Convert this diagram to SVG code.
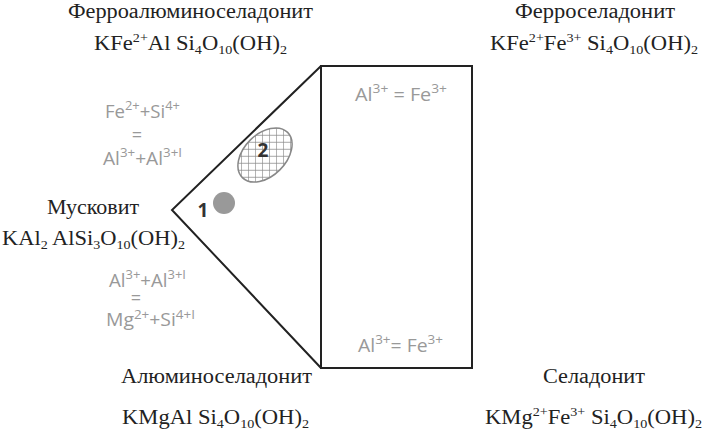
<svg xmlns="http://www.w3.org/2000/svg" width="702" height="432" viewBox="0 0 702 432">
<style>
.t{font-family:"Liberation Serif","Times New Roman",serif;font-size:20px;fill:#222}
.g{font-family:"Open Sans","Noto Sans",sans-serif;font-size:18px;fill:#999}
.s{font-size:12.5px}
.n{font-family:"Open Sans","Noto Sans",sans-serif;font-size:19px;font-weight:bold;fill:#333}
.ln{fill:none;stroke:#222;stroke-width:2}
</style>
<defs>
<pattern id="hatch" width="7" height="7" patternUnits="userSpaceOnUse" patternTransform="rotate(45)">
<rect width="7" height="7" fill="#fff"/>
<path d="M0 0H7M0 0V7" stroke="#8a8a8a" stroke-width="1.3"/>
</pattern>
</defs>
<g id="connectors">
<path class="ln" d="M321 66 L172 210 L321 368"/>
<rect class="ln" x="321" y="66" width="151" height="302"/>
</g>
<g id="ferroaluminoseladonit">
<text class="t" x="68" y="18" textLength="245" lengthAdjust="spacingAndGlyphs">Ферроалюминоселадонит</text>
<text class="t" x="94" y="50" textLength="193" lengthAdjust="spacingAndGlyphs">KFe<tspan class="s" dy="-8">2+</tspan><tspan dy="8">Al Si</tspan><tspan class="s" dy="4">4</tspan><tspan dy="-4">O</tspan><tspan class="s" dy="4">10</tspan><tspan dy="-4">(OH)</tspan><tspan class="s" dy="4">2</tspan></text>
</g>
<g id="ferroseladonit">
<text class="t" x="515" y="18" textLength="160" lengthAdjust="spacingAndGlyphs">Ферроселадонит</text>
<text class="t" x="490" y="50" textLength="208" lengthAdjust="spacingAndGlyphs">KFe<tspan class="s" dy="-8">2+</tspan><tspan dy="8">Fe</tspan><tspan class="s" dy="-8">3+</tspan><tspan dy="8"> Si</tspan><tspan class="s" dy="4">4</tspan><tspan dy="-4">O</tspan><tspan class="s" dy="4">10</tspan><tspan dy="-4">(OH)</tspan><tspan class="s" dy="4">2</tspan></text>
</g>
<g id="muskovit">
<text class="t" x="47" y="214" textLength="92" lengthAdjust="spacingAndGlyphs">Мусковит</text>
<text class="t" x="2" y="245" textLength="183" lengthAdjust="spacingAndGlyphs">KAl<tspan class="s" dy="4">2</tspan><tspan dy="-4"> AlSi</tspan><tspan class="s" dy="4">3</tspan><tspan dy="-4">O</tspan><tspan class="s" dy="4">10</tspan><tspan dy="-4">(OH)</tspan><tspan class="s" dy="4">2</tspan></text>
</g>
<g id="aluminoseladonit">
<text class="t" x="121" y="383" textLength="191" lengthAdjust="spacingAndGlyphs">Алюминоселадонит</text>
<text class="t" x="122" y="424" textLength="187" lengthAdjust="spacingAndGlyphs">KMgAl Si<tspan class="s" dy="4">4</tspan><tspan dy="-4">O</tspan><tspan class="s" dy="4">10</tspan><tspan dy="-4">(OH)</tspan><tspan class="s" dy="4">2</tspan></text>
</g>
<g id="seladonit">
<text class="t" x="543" y="383" textLength="102" lengthAdjust="spacingAndGlyphs">Селадонит</text>
<text class="t" x="485" y="424" textLength="217" lengthAdjust="spacingAndGlyphs">KMg<tspan class="s" dy="-8">2+</tspan><tspan dy="8">Fe</tspan><tspan class="s" dy="-8">3+</tspan><tspan dy="8"> Si</tspan><tspan class="s" dy="4">4</tspan><tspan dy="-4">O</tspan><tspan class="s" dy="4">10</tspan><tspan dy="-4">(OH)</tspan><tspan class="s" dy="4">2</tspan></text>
</g>
<g id="eq-upper">
<text class="g" x="105" y="118" textLength="75" lengthAdjust="spacingAndGlyphs">Fe<tspan class="s" dy="-8">2+</tspan><tspan dy="8">+Si</tspan><tspan class="s" dy="-8">4+</tspan></text>
<text class="g" x="137" y="141" text-anchor="middle">=</text>
<text class="g" x="103" y="165" textLength="79" lengthAdjust="spacingAndGlyphs">Al<tspan class="s" dy="-8">3+</tspan><tspan dy="8">+Al</tspan><tspan class="s" dy="-8">3+I</tspan></text>
</g>
<g id="eq-lower">
<text class="g" x="109" y="287" textLength="77" lengthAdjust="spacingAndGlyphs">Al<tspan class="s" dy="-8">3+</tspan><tspan dy="8">+Al</tspan><tspan class="s" dy="-8">3+I</tspan></text>
<text class="g" x="136" y="304" text-anchor="middle">=</text>
<text class="g" x="106" y="326" textLength="89" lengthAdjust="spacingAndGlyphs">Mg<tspan class="s" dy="-7">2+</tspan><tspan dy="7">+Si</tspan><tspan class="s" dy="-7">4+I</tspan></text>
</g>
<g id="box-top">
<text class="g" x="355" y="101" textLength="92" lengthAdjust="spacingAndGlyphs">Al<tspan class="s" dy="-8">3+</tspan><tspan dy="8"> = Fe</tspan><tspan class="s" dy="-8">3+</tspan></text>
</g>
<g id="box-bottom">
<text class="g" x="358" y="352" textLength="85" lengthAdjust="spacingAndGlyphs">Al<tspan class="s" dy="-8">3+</tspan><tspan dy="8">= Fe</tspan><tspan class="s" dy="-8">3+</tspan></text>
</g>
<g id="point1">
<circle cx="224" cy="203" r="11" fill="#999"/>
<text class="n" x="203" y="217" text-anchor="middle">1</text>
</g>
<g id="region2">
<ellipse cx="265" cy="155" rx="32" ry="21" transform="rotate(-45 265 155)" fill="url(#hatch)" stroke="#888" stroke-width="1.5"/>
<text class="n" x="263" y="157" text-anchor="middle">2</text>
</g>
</svg>
